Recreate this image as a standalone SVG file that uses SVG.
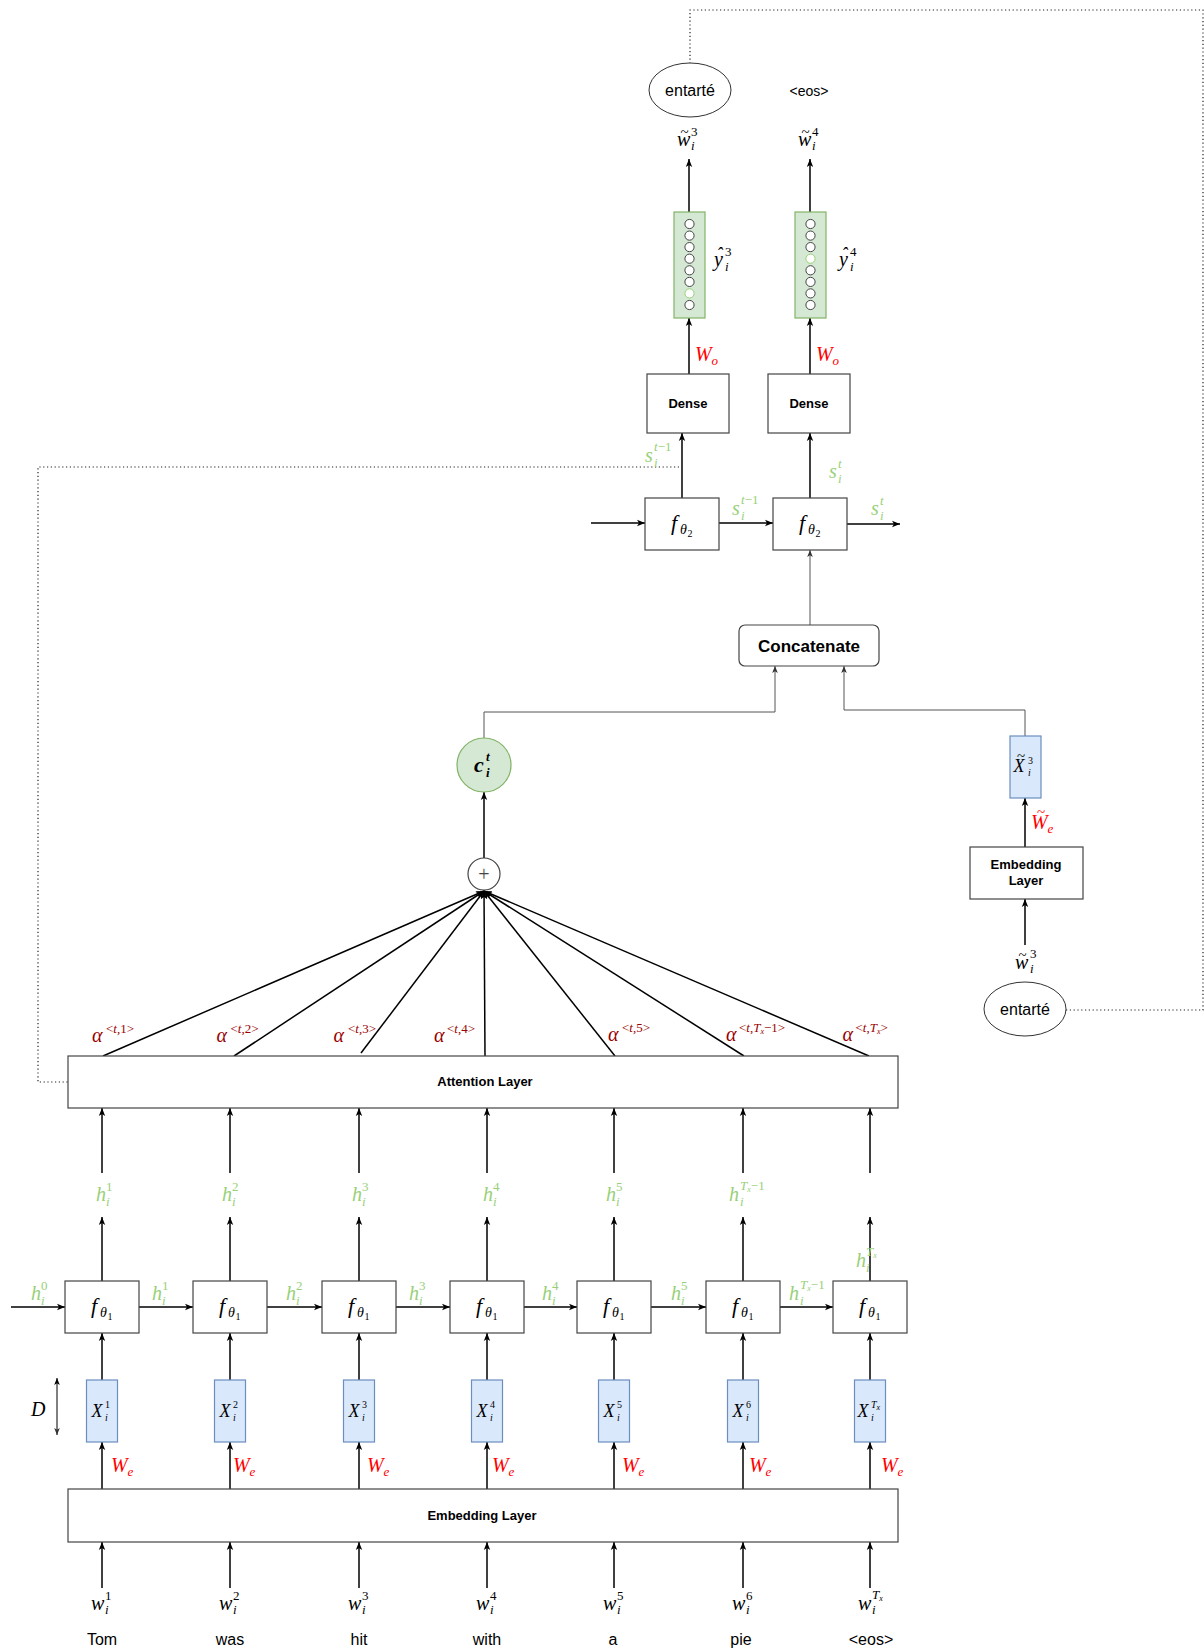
<svg xmlns="http://www.w3.org/2000/svg" width="1204" height="1649" viewBox="0 0 1204 1649">
<style>
.box{fill:#fff;stroke:#444;stroke-width:1.2}
.blue{fill:#dae8fc;stroke:#6c8ebf;stroke-width:1.2}
.green{fill:#d5e8d4;stroke:#82b366;stroke-width:1.2}
.unit{fill:#fff;stroke:#444;stroke-width:1}
.unit-on{fill:#fff;stroke:#97d077;stroke-width:1}
.lbl{font-family:"Liberation Sans",Arial,sans-serif;font-weight:bold;font-size:13px;text-anchor:middle;fill:#000}
.big{font-size:17px}
.txt{font-family:"Liberation Sans",Arial,sans-serif;font-size:16px;text-anchor:middle;fill:#000}
.sm{font-size:14px}
.m{font-family:"Liberation Serif","DejaVu Serif",serif;font-style:italic;font-size:20px;fill:#000}
.mx{font-size:18px}
.fn{font-size:22px}
.s{font-size:13px}
.xs{font-size:10px}
.th{font-size:14px}
.ss{font-size:8px}
.tl{font-size:15px;font-style:normal}
.up{font-style:normal}
.g{fill:#97d077}
.r{fill:#ff0000}
.a{fill:#990000}
.arr{stroke:#000;stroke-width:1.5;fill:none;marker-end:url(#ah)}
.thin{stroke:#555;stroke-width:1;fill:none;marker-end:url(#ahs)}
.fan{stroke:#000;stroke-width:1.5;fill:none;marker-end:url(#ah)}
.dot{stroke:#222;stroke-width:1.2;fill:none;stroke-dasharray:1.2 2.6}
</style>
<defs>
<marker id="ah" viewBox="0 0 10 10" refX="10" refY="5" markerWidth="8" markerHeight="8" markerUnits="userSpaceOnUse" orient="auto">
<path d="M0,1 L10,5 L0,9 L2.5,5 z" fill="#000"/>
</marker>
<marker id="ahs" viewBox="0 0 10 10" refX="10" refY="5" markerWidth="7" markerHeight="7" markerUnits="userSpaceOnUse" orient="auto">
<path d="M0,1 L10,5 L0,9 L2.5,5 z" fill="#333"/>
</marker>
<marker id="ahstart" viewBox="0 0 10 10" refX="0" refY="5" markerWidth="7" markerHeight="7" markerUnits="userSpaceOnUse" orient="auto">
<path d="M10,1 L0,5 L10,9 L7.5,5 z" fill="#000"/>
</marker>
</defs>
<rect width="1204" height="1649" fill="#fff"/>

<!-- connectors -->
<g id="connectors">
  <!-- words into embedding layer -->
  <line class="arr" x1="102" y1="1588" x2="102" y2="1542"/>
  <line class="arr" x1="230" y1="1588" x2="230" y2="1542"/>
  <line class="arr" x1="359" y1="1588" x2="359" y2="1542"/>
  <line class="arr" x1="487" y1="1588" x2="487" y2="1542"/>
  <line class="arr" x1="614" y1="1588" x2="614" y2="1542"/>
  <line class="arr" x1="743" y1="1588" x2="743" y2="1542"/>
  <line class="arr" x1="870" y1="1588" x2="870" y2="1542"/>
  <!-- embedding layer to word vectors -->
  <line class="arr" x1="102" y1="1489" x2="102" y2="1442"/>
  <line class="arr" x1="230" y1="1489" x2="230" y2="1442"/>
  <line class="arr" x1="359" y1="1489" x2="359" y2="1442"/>
  <line class="arr" x1="487" y1="1489" x2="487" y2="1442"/>
  <line class="arr" x1="614" y1="1489" x2="614" y2="1442"/>
  <line class="arr" x1="743" y1="1489" x2="743" y2="1442"/>
  <line class="arr" x1="870" y1="1489" x2="870" y2="1442"/>
  <!-- word vectors to encoder cells -->
  <line class="arr" x1="102" y1="1380" x2="102" y2="1333"/>
  <line class="arr" x1="230" y1="1380" x2="230" y2="1333"/>
  <line class="arr" x1="359" y1="1380" x2="359" y2="1333"/>
  <line class="arr" x1="487" y1="1380" x2="487" y2="1333"/>
  <line class="arr" x1="614" y1="1380" x2="614" y2="1333"/>
  <line class="arr" x1="743" y1="1380" x2="743" y2="1333"/>
  <line class="arr" x1="870" y1="1380" x2="870" y2="1333"/>
  <!-- recurrent hidden state chain -->
  <line class="arr" x1="11" y1="1307" x2="65" y2="1307"/>
  <line class="arr" x1="139" y1="1307" x2="193" y2="1307"/>
  <line class="arr" x1="267" y1="1307" x2="322" y2="1307"/>
  <line class="arr" x1="396" y1="1307" x2="450" y2="1307"/>
  <line class="arr" x1="524" y1="1307" x2="577" y2="1307"/>
  <line class="arr" x1="651" y1="1307" x2="706" y2="1307"/>
  <line class="arr" x1="780" y1="1307" x2="833" y2="1307"/>
  <!-- encoder outputs -->
  <line class="arr" x1="102" y1="1281" x2="102" y2="1217"/>
  <line class="arr" x1="230" y1="1281" x2="230" y2="1217"/>
  <line class="arr" x1="359" y1="1281" x2="359" y2="1217"/>
  <line class="arr" x1="487" y1="1281" x2="487" y2="1217"/>
  <line class="arr" x1="614" y1="1281" x2="614" y2="1217"/>
  <line class="arr" x1="743" y1="1281" x2="743" y2="1217"/>
  <line class="arr" x1="870" y1="1281" x2="870" y2="1217"/>
  <!-- hidden states into attention -->
  <line class="arr" x1="102" y1="1173" x2="102" y2="1108"/>
  <line class="arr" x1="230" y1="1173" x2="230" y2="1108"/>
  <line class="arr" x1="359" y1="1173" x2="359" y2="1108"/>
  <line class="arr" x1="487" y1="1173" x2="487" y2="1108"/>
  <line class="arr" x1="614" y1="1173" x2="614" y2="1108"/>
  <line class="arr" x1="743" y1="1173" x2="743" y2="1108"/>
  <line class="arr" x1="870" y1="1173" x2="870" y2="1108"/>
  <!-- attention weights fanning into the sum -->
  <line class="fan" x1="103" y1="1056" x2="484" y2="891"/>
  <line class="fan" x1="234" y1="1056" x2="484" y2="891"/>
  <line class="fan" x1="361" y1="1053" x2="484" y2="891"/>
  <line class="fan" x1="485" y1="1056" x2="484" y2="891"/>
  <line class="fan" x1="615" y1="1056" x2="484" y2="891"/>
  <line class="fan" x1="744" y1="1056" x2="484" y2="891"/>
  <line class="fan" x1="869" y1="1056" x2="484" y2="891"/>
  <!-- sum to context -->
  <line class="arr" x1="484" y1="858" x2="484" y2="792"/>
  <!-- context and embedded token to concatenate -->
  <polyline class="thin" points="484,738 484,712 775,712 775,666"/>
  <polyline class="thin" points="1025,736 1025,710 844,710 844,666"/>
  <line class="thin" x1="810" y1="625" x2="810" y2="550"/>
  <!-- decoder embedding path -->
  <line class="arr" x1="1025" y1="945" x2="1025" y2="899"/>
  <line class="arr" x1="1025" y1="847" x2="1025" y2="798"/>
  <!-- decoder recurrence -->
  <line class="arr" x1="591" y1="523" x2="645" y2="523"/>
  <line class="arr" x1="719" y1="523" x2="773" y2="523"/>
  <line class="arr" x1="847" y1="524" x2="900" y2="524"/>
  <line class="arr" x1="682" y1="498" x2="682" y2="433"/>
  <line class="arr" x1="810" y1="498" x2="810" y2="433"/>
  <line class="arr" x1="689" y1="374" x2="689" y2="318"/>
  <line class="arr" x1="810" y1="374" x2="810" y2="318"/>
  <line class="arr" x1="689" y1="212" x2="689" y2="159"/>
  <line class="arr" x1="810" y1="212" x2="810" y2="159"/>
  <!-- feedback loops -->
  <polyline class="dot" points="679,467 38,467 38,1082 68,1082"/>
  <polyline class="dot" points="1066,1010 1203,1010 1203,10 690,10 690,63"/>
  <!-- embedding dimension -->
  <line stroke="#000" stroke-width="1" x1="57" y1="1378" x2="57" y2="1435" marker-start="url(#ahstart)" marker-end="url(#ahs)"/>
</g>

<!-- input words -->
<g id="words">
  <text class="txt" x="102" y="1645">Tom</text>
  <text class="txt" x="230" y="1645">was</text>
  <text class="txt" x="359" y="1645">hit</text>
  <text class="txt" x="487" y="1645">with</text>
  <text class="txt" x="613" y="1645">a</text>
  <text class="txt" x="741" y="1645">pie</text>
  <text class="txt" x="871" y="1645">&lt;eos&gt;</text>
</g>

<g id="word-labels">
  <text class="m"><tspan x="91" y="1610">w</tspan><tspan class="s up" x="105" y="1600">1</tspan><tspan class="s" x="105" y="1614">i</tspan></text>
  <text class="m"><tspan x="219" y="1610">w</tspan><tspan class="s up" x="233" y="1600">2</tspan><tspan class="s" x="233" y="1614">i</tspan></text>
  <text class="m"><tspan x="348" y="1610">w</tspan><tspan class="s up" x="362" y="1600">3</tspan><tspan class="s" x="362" y="1614">i</tspan></text>
  <text class="m"><tspan x="476" y="1610">w</tspan><tspan class="s up" x="490" y="1600">4</tspan><tspan class="s" x="490" y="1614">i</tspan></text>
  <text class="m"><tspan x="603" y="1610">w</tspan><tspan class="s up" x="617" y="1600">5</tspan><tspan class="s" x="617" y="1614">i</tspan></text>
  <text class="m"><tspan x="732" y="1610">w</tspan><tspan class="s up" x="746" y="1600">6</tspan><tspan class="s" x="746" y="1614">i</tspan></text>
  <text class="m"><tspan x="858" y="1610">w</tspan><tspan class="s" x="872" y="1599">T</tspan><tspan class="ss" dy="2">x</tspan><tspan class="s" x="872" y="1614">i</tspan></text>
</g>

<g id="embedding-layer">
  <rect class="box" x="68" y="1489" width="830" height="53"/>
  <text class="lbl" x="482" y="1520">Embedding Layer</text>
</g>

<g id="embedding-weights">
  <text class="m r"><tspan x="111" y="1472">W</tspan><tspan class="s" x="127.5" y="1476">e</tspan></text>
  <text class="m r"><tspan x="233" y="1472">W</tspan><tspan class="s" x="249.5" y="1476">e</tspan></text>
  <text class="m r"><tspan x="367" y="1472">W</tspan><tspan class="s" x="383.5" y="1476">e</tspan></text>
  <text class="m r"><tspan x="492" y="1472">W</tspan><tspan class="s" x="508.5" y="1476">e</tspan></text>
  <text class="m r"><tspan x="622" y="1472">W</tspan><tspan class="s" x="638.5" y="1476">e</tspan></text>
  <text class="m r"><tspan x="749" y="1472">W</tspan><tspan class="s" x="765.5" y="1476">e</tspan></text>
  <text class="m r"><tspan x="881" y="1472">W</tspan><tspan class="s" x="897.5" y="1476">e</tspan></text>
</g>

<g id="dimension-label">
  <text class="m" x="31" y="1416" fill="#333">D</text>
</g>

<!-- word vectors -->
<g id="x1"><rect class="blue" x="86.5" y="1380" width="31" height="62"/><text class="m mx"><tspan x="91.5" y="1417">X</tspan><tspan class="xs up" x="105" y="1408">1</tspan><tspan class="xs" x="105" y="1421">i</tspan></text></g>
<g id="x2"><rect class="blue" x="214.5" y="1380" width="31" height="62"/><text class="m mx"><tspan x="219.5" y="1417">X</tspan><tspan class="xs up" x="233" y="1408">2</tspan><tspan class="xs" x="233" y="1421">i</tspan></text></g>
<g id="x3"><rect class="blue" x="343.5" y="1380" width="31" height="62"/><text class="m mx"><tspan x="348.5" y="1417">X</tspan><tspan class="xs up" x="362" y="1408">3</tspan><tspan class="xs" x="362" y="1421">i</tspan></text></g>
<g id="x4"><rect class="blue" x="471.5" y="1380" width="31" height="62"/><text class="m mx"><tspan x="476.5" y="1417">X</tspan><tspan class="xs up" x="490" y="1408">4</tspan><tspan class="xs" x="490" y="1421">i</tspan></text></g>
<g id="x5"><rect class="blue" x="598.5" y="1380" width="31" height="62"/><text class="m mx"><tspan x="603.5" y="1417">X</tspan><tspan class="xs up" x="617" y="1408">5</tspan><tspan class="xs" x="617" y="1421">i</tspan></text></g>
<g id="x6"><rect class="blue" x="727.5" y="1380" width="31" height="62"/><text class="m mx"><tspan x="732.5" y="1417">X</tspan><tspan class="xs up" x="746" y="1408">6</tspan><tspan class="xs" x="746" y="1421">i</tspan></text></g>
<g id="x7"><rect class="blue" x="854.5" y="1380" width="31" height="62"/><text class="m mx"><tspan x="857.5" y="1417">X</tspan><tspan class="xs" x="871" y="1408">T</tspan><tspan class="ss" dy="1.5">x</tspan><tspan class="xs" x="871" y="1421">i</tspan></text></g>

<!-- encoder cells -->
<g id="enc1"><rect class="box" x="65" y="1281" width="74" height="52"/><text class="m"><tspan class="fn" x="91" y="1313">f</tspan><tspan class="th" x="100" y="1317">θ</tspan><tspan class="xs up" x="107.5" y="1320">1</tspan></text></g>
<g id="enc2"><rect class="box" x="193" y="1281" width="74" height="52"/><text class="m"><tspan class="fn" x="219" y="1313">f</tspan><tspan class="th" x="228" y="1317">θ</tspan><tspan class="xs up" x="235.5" y="1320">1</tspan></text></g>
<g id="enc3"><rect class="box" x="322" y="1281" width="74" height="52"/><text class="m"><tspan class="fn" x="348" y="1313">f</tspan><tspan class="th" x="357" y="1317">θ</tspan><tspan class="xs up" x="364.5" y="1320">1</tspan></text></g>
<g id="enc4"><rect class="box" x="450" y="1281" width="74" height="52"/><text class="m"><tspan class="fn" x="476" y="1313">f</tspan><tspan class="th" x="485" y="1317">θ</tspan><tspan class="xs up" x="492.5" y="1320">1</tspan></text></g>
<g id="enc5"><rect class="box" x="577" y="1281" width="74" height="52"/><text class="m"><tspan class="fn" x="603" y="1313">f</tspan><tspan class="th" x="612" y="1317">θ</tspan><tspan class="xs up" x="619.5" y="1320">1</tspan></text></g>
<g id="enc6"><rect class="box" x="706" y="1281" width="74" height="52"/><text class="m"><tspan class="fn" x="732" y="1313">f</tspan><tspan class="th" x="741" y="1317">θ</tspan><tspan class="xs up" x="748.5" y="1320">1</tspan></text></g>
<g id="enc7"><rect class="box" x="833" y="1281" width="74" height="52"/><text class="m"><tspan class="fn" x="859" y="1313">f</tspan><tspan class="th" x="868" y="1317">θ</tspan><tspan class="xs up" x="875.5" y="1320">1</tspan></text></g>

<!-- hidden state labels along the chain -->
<g id="chain-labels">
  <text class="m g"><tspan x="31" y="1300">h</tspan><tspan class="s up" x="41" y="1290">0</tspan><tspan class="s" x="41" y="1305">i</tspan></text>
  <text class="m g"><tspan x="152" y="1300">h</tspan><tspan class="s up" x="162" y="1290">1</tspan><tspan class="s" x="162" y="1305">i</tspan></text>
  <text class="m g"><tspan x="286" y="1300">h</tspan><tspan class="s up" x="296" y="1290">2</tspan><tspan class="s" x="296" y="1305">i</tspan></text>
  <text class="m g"><tspan x="409" y="1300">h</tspan><tspan class="s up" x="419" y="1290">3</tspan><tspan class="s" x="419" y="1305">i</tspan></text>
  <text class="m g"><tspan x="542" y="1300">h</tspan><tspan class="s up" x="552" y="1290">4</tspan><tspan class="s" x="552" y="1305">i</tspan></text>
  <text class="m g"><tspan x="671" y="1300">h</tspan><tspan class="s up" x="681" y="1290">5</tspan><tspan class="s" x="681" y="1305">i</tspan></text>
  <text class="m g"><tspan x="789" y="1300">h</tspan><tspan class="s" x="800" y="1289">T</tspan><tspan class="ss" dy="2">x</tspan><tspan class="s up" dy="-2">−1</tspan><tspan class="s" x="800" y="1305">i</tspan></text>
</g>

<g id="output-labels">
  <text class="m g"><tspan x="96" y="1201">h</tspan><tspan class="s up" x="106" y="1191">1</tspan><tspan class="s" x="106" y="1206">i</tspan></text>
  <text class="m g"><tspan x="222" y="1201">h</tspan><tspan class="s up" x="232" y="1191">2</tspan><tspan class="s" x="232" y="1206">i</tspan></text>
  <text class="m g"><tspan x="352" y="1201">h</tspan><tspan class="s up" x="362" y="1191">3</tspan><tspan class="s" x="362" y="1206">i</tspan></text>
  <text class="m g"><tspan x="483" y="1201">h</tspan><tspan class="s up" x="493" y="1191">4</tspan><tspan class="s" x="493" y="1206">i</tspan></text>
  <text class="m g"><tspan x="606" y="1201">h</tspan><tspan class="s up" x="616" y="1191">5</tspan><tspan class="s" x="616" y="1206">i</tspan></text>
  <text class="m g"><tspan x="729" y="1201">h</tspan><tspan class="s" x="740" y="1190">T</tspan><tspan class="ss" dy="2">x</tspan><tspan class="s up" dy="-2">−1</tspan><tspan class="s" x="740" y="1206">i</tspan></text>
  <text class="m g"><tspan x="856" y="1267">h</tspan><tspan class="s" x="866" y="1256">T</tspan><tspan class="ss" dy="2">x</tspan><tspan class="s" x="866" y="1272">i</tspan></text>
</g>

<g id="attention-layer">
  <rect class="box" x="68" y="1056" width="830" height="52"/>
  <text class="lbl" x="485" y="1086">Attention Layer</text>
</g>

<!-- attention weights -->
<g id="alphas">
  <text class="m a"><tspan x="92" y="1042">α</tspan><tspan class="s up" x="106" y="1033">&lt;</tspan><tspan class="s">t</tspan><tspan class="s up">,1&gt;</tspan></text>
  <text class="m a"><tspan x="216.5" y="1042">α</tspan><tspan class="s up" x="230.5" y="1033">&lt;</tspan><tspan class="s">t</tspan><tspan class="s up">,2&gt;</tspan></text>
  <text class="m a"><tspan x="333.5" y="1042">α</tspan><tspan class="s up" x="348" y="1033">&lt;</tspan><tspan class="s">t</tspan><tspan class="s up">,3&gt;</tspan></text>
  <text class="m a"><tspan x="434" y="1042">α</tspan><tspan class="s up" x="447" y="1033">&lt;</tspan><tspan class="s">t</tspan><tspan class="s up">,4&gt;</tspan></text>
  <text class="m a"><tspan x="608" y="1041">α</tspan><tspan class="s up" x="622" y="1032">&lt;</tspan><tspan class="s">t</tspan><tspan class="s up">,5&gt;</tspan></text>
  <text class="m a"><tspan x="726" y="1041">α</tspan><tspan class="s up" x="739" y="1032">&lt;</tspan><tspan class="s">t</tspan><tspan class="s up">,</tspan><tspan class="s">T</tspan><tspan class="ss" dy="2">x</tspan><tspan class="s up" dy="-2">−1&gt;</tspan></text>
  <text class="m a"><tspan x="842.5" y="1041">α</tspan><tspan class="s up" x="855.5" y="1032">&lt;</tspan><tspan class="s">t</tspan><tspan class="s up">,</tspan><tspan class="s">T</tspan><tspan class="ss" dy="2">x</tspan><tspan class="s up" dy="-2">&gt;</tspan></text>
</g>

<g id="sum">
  <circle cx="484" cy="874" r="16" fill="#fff" stroke="#444" stroke-width="1.2"/>
  <text x="484" y="881" font-family="Liberation Serif, serif" font-size="20" fill="#444" text-anchor="middle">+</text>
</g>

<g id="context">
  <circle class="green" cx="484" cy="765" r="27"/>
  <text class="m fn" font-weight="bold"><tspan x="474" y="772">c</tspan><tspan class="s" x="486" y="761">t</tspan><tspan class="s" x="486" y="777">i</tspan></text>
</g>

<g id="concatenate">
  <rect class="box" x="739" y="625" width="140" height="41" rx="6"/>
  <text class="lbl big" x="809" y="652">Concatenate</text>
</g>

<g id="prev-token">
  <ellipse cx="1025" cy="1009" rx="41" ry="27" fill="#fff" stroke="#333" stroke-width="1"/>
  <text class="txt" x="1025" y="1015">entarté</text>
</g>
<g id="prev-token-label">
  <text class="m"><tspan x="1015" y="969">w</tspan><tspan class="tl" x="1018.5" y="960">~</tspan><tspan class="s up" x="1030" y="958">3</tspan><tspan class="s" x="1030" y="973">i</tspan></text>
</g>
<g id="dec-embedding">
  <rect class="box" x="970" y="847" width="113" height="52"/>
  <text class="lbl" x="1026" y="869">Embedding</text>
  <text class="lbl" x="1026" y="885">Layer</text>
</g>
<g id="dec-embedding-weight">
  <text class="m r"><tspan x="1031" y="829">W</tspan><tspan class="tl" x="1037" y="817">~</tspan><tspan class="s" x="1047.5" y="833">e</tspan></text>
</g>
<g id="dec-vector">
  <rect class="blue" x="1010" y="736" width="31" height="62"/>
  <text class="m mx"><tspan x="1013.5" y="772">X</tspan><tspan class="tl" x="1017" y="761">~</tspan><tspan class="xs up" x="1028" y="764">3</tspan><tspan class="xs" x="1028" y="776">i</tspan></text>
</g>

<!-- decoder cells -->
<g id="dec1"><rect class="box" x="645" y="498" width="74" height="52"/><text class="m"><tspan class="fn" x="671" y="530">f</tspan><tspan class="th" x="680" y="534">θ</tspan><tspan class="xs up" x="687.5" y="537">2</tspan></text></g>
<g id="dec2"><rect class="box" x="773" y="498" width="74" height="52"/><text class="m"><tspan class="fn" x="799" y="530">f</tspan><tspan class="th" x="808" y="534">θ</tspan><tspan class="xs up" x="815.5" y="537">2</tspan></text></g>

<g id="state-labels">
  <text class="m g"><tspan x="645" y="462">s</tspan><tspan class="s" x="654" y="451">t</tspan><tspan class="s up">−1</tspan><tspan class="s" x="654" y="467">i</tspan></text>
  <text class="m g"><tspan x="732" y="515">s</tspan><tspan class="s" x="741" y="504">t</tspan><tspan class="s up">−1</tspan><tspan class="s" x="741" y="520">i</tspan></text>
  <text class="m g"><tspan x="829" y="478">s</tspan><tspan class="s" x="838" y="468">t</tspan><tspan class="s" x="838" y="483">i</tspan></text>
  <text class="m g"><tspan x="871" y="515">s</tspan><tspan class="s" x="880" y="505">t</tspan><tspan class="s" x="880" y="520">i</tspan></text>
</g>

<g id="dense1"><rect class="box" x="647" y="374" width="82" height="59"/><text class="lbl" x="688" y="408">Dense</text></g>
<g id="dense2"><rect class="box" x="768" y="374" width="82" height="59"/><text class="lbl" x="809" y="408">Dense</text></g>

<g id="output-weights">
  <text class="m r"><tspan x="695" y="361">W</tspan><tspan class="s" x="711.5" y="365">o</tspan></text>
  <text class="m r"><tspan x="816" y="361">W</tspan><tspan class="s" x="832.5" y="365">o</tspan></text>
</g>

<!-- softmax outputs -->
<g id="softmax1">
  <rect class="green" x="674" y="212" width="31" height="106"/>
  <circle class="unit" cx="689.5" cy="224" r="4.6"/>
  <circle class="unit" cx="689.5" cy="235.6" r="4.6"/>
  <circle class="unit" cx="689.5" cy="247.1" r="4.6"/>
  <circle class="unit" cx="689.5" cy="258.7" r="4.6"/>
  <circle class="unit" cx="689.5" cy="270.3" r="4.6"/>
  <circle class="unit" cx="689.5" cy="281.9" r="4.6"/>
  <circle class="unit-on" cx="689.5" cy="293.4" r="4.6"/>
  <circle class="unit" cx="689.5" cy="305" r="4.6"/>
  <text class="m"><tspan x="714" y="266">y</tspan><tspan class="mx" x="716.5" y="260">ˆ</tspan><tspan class="s up" x="725" y="256">3</tspan><tspan class="s" x="725" y="271">i</tspan></text>
</g>
<g id="softmax2">
  <rect class="green" x="795" y="212" width="31" height="106"/>
  <circle class="unit" cx="810.5" cy="224" r="4.6"/>
  <circle class="unit" cx="810.5" cy="235.6" r="4.6"/>
  <circle class="unit" cx="810.5" cy="247.1" r="4.6"/>
  <circle class="unit-on" cx="810.5" cy="258.7" r="4.6"/>
  <circle class="unit" cx="810.5" cy="270.3" r="4.6"/>
  <circle class="unit" cx="810.5" cy="281.9" r="4.6"/>
  <circle class="unit" cx="810.5" cy="293.4" r="4.6"/>
  <circle class="unit" cx="810.5" cy="305" r="4.6"/>
  <text class="m"><tspan x="839" y="266">y</tspan><tspan class="mx" x="841.5" y="260">ˆ</tspan><tspan class="s up" x="850" y="256">4</tspan><tspan class="s" x="850" y="271">i</tspan></text>
</g>

<g id="predicted-labels">
  <text class="m"><tspan x="677" y="146">w</tspan><tspan class="tl" x="680.5" y="137">~</tspan><tspan class="s up" x="691" y="136">3</tspan><tspan class="s" x="691" y="150">i</tspan></text>
  <text class="m"><tspan x="798" y="146">w</tspan><tspan class="tl" x="801.5" y="137">~</tspan><tspan class="s up" x="812" y="136">4</tspan><tspan class="s" x="812" y="150">i</tspan></text>
</g>

<g id="predicted-word1">
  <ellipse cx="690" cy="90" rx="41" ry="27" fill="#fff" stroke="#333" stroke-width="1"/>
  <text class="txt" x="690" y="96">entarté</text>
</g>
<g id="predicted-word2">
  <text class="txt sm" x="809" y="96">&lt;eos&gt;</text>
</g>
</svg>
